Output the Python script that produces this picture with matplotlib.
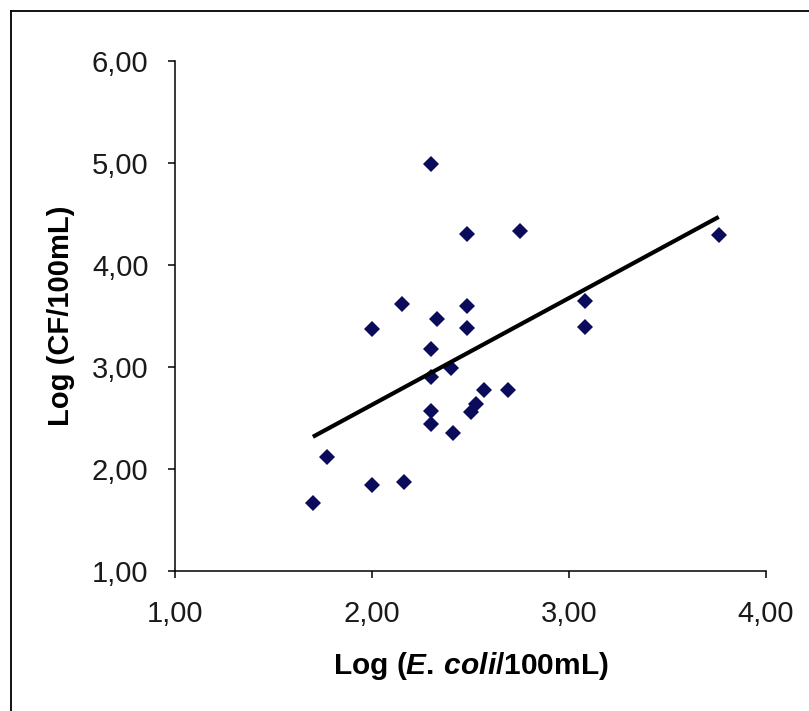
import numpy as np
import matplotlib
matplotlib.use("Agg")
import matplotlib.pyplot as plt
from matplotlib.ticker import FuncFormatter
from matplotlib.lines import Line2D

plt.rcParams['font.family'] = ['Liberation Sans', 'DejaVu Sans']
plt.rcParams['mathtext.fontset'] = 'custom'
plt.rcParams['mathtext.rm'] = 'Liberation Sans:bold'
plt.rcParams['mathtext.it'] = 'Liberation Sans:italic:bold'
plt.rcParams['mathtext.bf'] = 'Liberation Sans:bold'

# Data
ecoli_log = [1.70, 1.77, 2.00, 2.16, 2.00, 2.15, 2.30, 2.33, 2.30, 2.30,
             2.30, 2.30, 2.40, 2.41, 2.48, 2.48, 2.48, 2.50, 2.53, 2.57,
             2.69, 2.75, 3.08, 3.08, 3.76]
cf_log = [1.67, 2.12, 1.84, 1.87, 3.37, 3.62, 4.99, 3.47, 3.18, 2.90,
          2.57, 2.44, 2.99, 2.35, 4.30, 3.60, 3.38, 2.56, 2.64, 2.77,
          2.77, 4.33, 3.65, 3.39, 4.29]

x_ticks = [1.0, 2.0, 3.0, 4.0]
y_ticks = [1.0, 2.0, 3.0, 4.0, 5.0, 6.0]
x_label = r'Log ($\mathit{E.\,coli}$/100mL)'
y_label = 'Log (CF/100mL)'

x = np.array(ecoli_log)
y = np.array(cf_log)

fig = plt.figure(figsize=(8.09, 7.11), dpi=100)
ax = fig.add_axes([175/809, 1-571/711, (766-175)/809, (571-61)/711])

ax.plot(x, y, linestyle='none', marker='D', markersize=8.3,
        color='#0b0b5c', markeredgewidth=0, zorder=3)

# Linear trend line (least squares) spanning data range
slope, intercept = np.polyfit(x, y, 1)
xl = np.array([x.min(), x.max()])
ax.plot(xl, slope*xl + intercept, color='black', linewidth=3.0, zorder=4,
        solid_capstyle='butt')

ax.set_xlim(x_ticks[0], x_ticks[-1])
ax.set_ylim(y_ticks[0], y_ticks[-1])
ax.set_xticks(x_ticks)
ax.set_yticks(y_ticks)
fmt = FuncFormatter(lambda v, p: f"{v:.2f}".replace('.', ','))
ax.xaxis.set_major_formatter(fmt)
ax.yaxis.set_major_formatter(fmt)

for s in ['top', 'right']:
    ax.spines[s].set_visible(False)
for s in ['left', 'bottom']:
    ax.spines[s].set_linewidth(1.1)
    ax.spines[s].set_color('black')

ax.tick_params(axis='both', direction='out', length=5, width=1.1,
               labelsize=21, colors='black', labelcolor='#1a1a1a')
ax.tick_params(axis='y', pad=14)
ax.tick_params(axis='x', pad=16)

ax.set_xlabel(x_label, fontsize=21.5, fontweight='bold', labelpad=16)
ax.set_ylabel(y_label, fontsize=21, fontweight='bold', labelpad=12)

# Outer frame (only top and left edges visible in the cropped reference)
fig.add_artist(Line2D([11/809, 11/809], [0, 1-11/711], transform=fig.transFigure,
                      color='black', linewidth=1.3))
fig.add_artist(Line2D([11/809, 1], [1-11/711, 1-11/711], transform=fig.transFigure,
                      color='black', linewidth=1.3))

fig.savefig('out.png', dpi=100, facecolor='white')
